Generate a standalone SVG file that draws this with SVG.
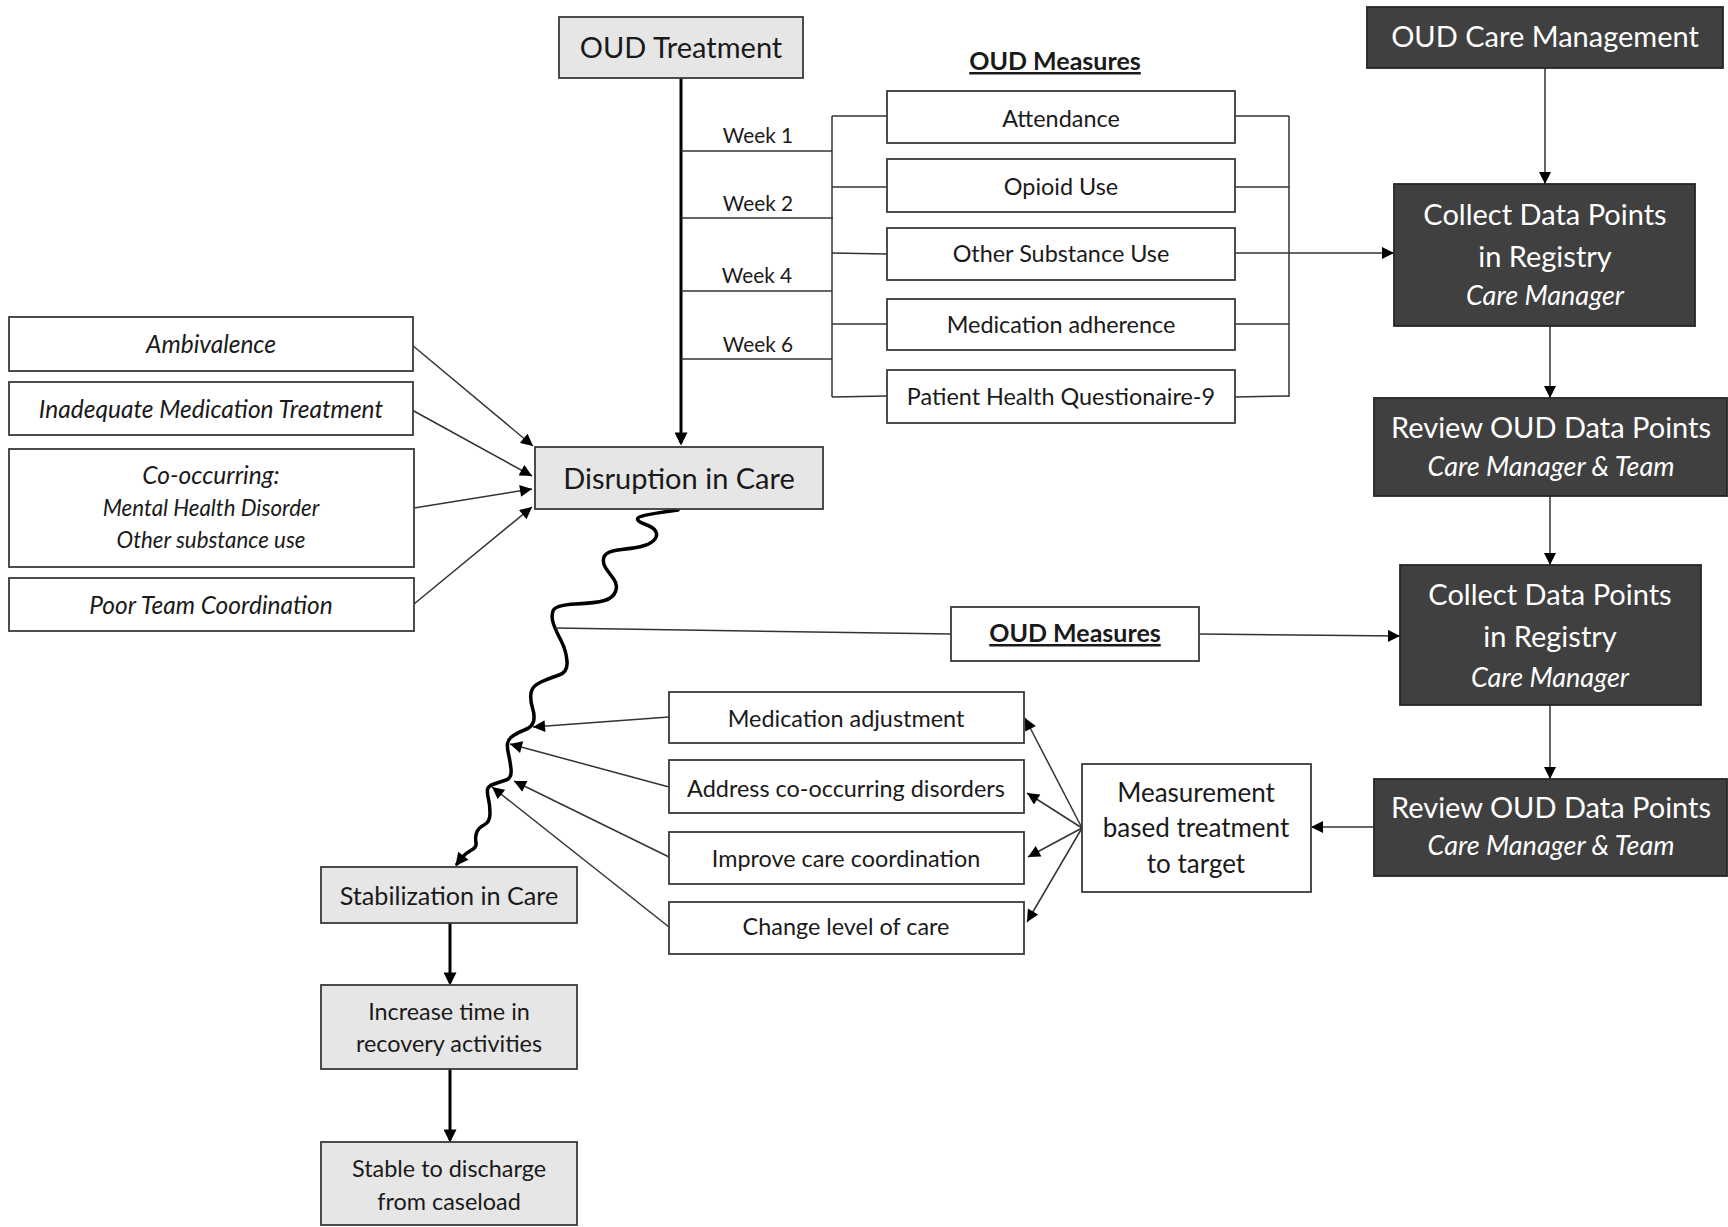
<svg xmlns="http://www.w3.org/2000/svg" width="1728" height="1227" viewBox="0 0 1728 1227">
<style>
.box{fill:#fff;stroke:#3a3a3a;stroke-width:1.8}
.gray{fill:#e7e6e6;stroke:#3a3a3a;stroke-width:1.8}
.dark{fill:#404040;stroke:#262626;stroke-width:1.8}
text{font-family:Lato,"Open Sans",sans-serif;fill:#1a1a1a;text-anchor:middle}
.wt{fill:#fff}
.it{font-style:italic}
.b{font-weight:bold;text-decoration:underline}
.s29{font-size:29px}
.sit{font-size:27px}
.s25{font-size:25px}
.s26{font-size:26px}
.s252{font-size:25.2px}
.s234{font-size:23.4px}
.fi{font-size:24.5px}
.fs{font-size:22.3px}
.s21{font-size:20.8px}
.ln{stroke:#333;stroke-width:1.5;fill:none}
.thick{stroke:#000;stroke-width:3;fill:none}
.wave{stroke:#000;stroke-width:3.5;fill:none;stroke-linecap:round;stroke-linejoin:round}
</style>
<defs>
<marker id="ah" viewBox="0 0 10 10" refX="10" refY="5" markerWidth="13" markerHeight="12" markerUnits="userSpaceOnUse" orient="auto"><path d="M0,0 L10,5 L0,10 z" fill="#000"/></marker>
<marker id="ahk" viewBox="0 0 10 10" refX="8" refY="5" markerWidth="15" markerHeight="13" markerUnits="userSpaceOnUse" orient="auto"><path d="M0,0 L10,5 L0,10 z" fill="#000"/></marker>
</defs>

<g id="connectors">
  <line class="thick" x1="681" y1="78" x2="681" y2="443" marker-end="url(#ahk)"/>
  <line class="ln" x1="681" y1="151" x2="832" y2="151"/>
  <line class="ln" x1="681" y1="218" x2="833" y2="218"/>
  <line class="ln" x1="681" y1="291" x2="832" y2="291"/>
  <line class="ln" x1="681" y1="359" x2="832" y2="359"/>
  <line class="ln" x1="832" y1="116" x2="832" y2="397"/>
  <line class="ln" x1="832" y1="116" x2="887" y2="116"/>
  <line class="ln" x1="832" y1="187" x2="887" y2="187"/>
  <line class="ln" x1="832" y1="253" x2="887" y2="254"/>
  <line class="ln" x1="832" y1="324" x2="887" y2="324"/>
  <line class="ln" x1="832" y1="397" x2="887" y2="396"/>
  <line class="ln" x1="1289" y1="116" x2="1289" y2="397"/>
  <line class="ln" x1="1235" y1="116" x2="1289" y2="116"/>
  <line class="ln" x1="1235" y1="187" x2="1289" y2="187"/>
  <line class="ln" x1="1235" y1="253" x2="1289" y2="253"/>
  <line class="ln" x1="1235" y1="324" x2="1289" y2="324"/>
  <line class="ln" x1="1235" y1="397" x2="1289" y2="396"/>
  <line class="ln" x1="1289" y1="253" x2="1394" y2="253" marker-end="url(#ah)"/>
  <line class="ln" x1="1545" y1="68" x2="1545" y2="184" marker-end="url(#ah)"/>
  <line class="ln" x1="1550" y1="326" x2="1550" y2="398" marker-end="url(#ah)"/>
  <line class="ln" x1="1550" y1="496" x2="1550" y2="565" marker-end="url(#ah)"/>
  <line class="ln" x1="1550" y1="705" x2="1550" y2="779" marker-end="url(#ah)"/>
  <line class="ln" x1="1374" y1="827" x2="1311" y2="827" marker-end="url(#ah)"/>
  <line class="ln" x1="412" y1="345" x2="533" y2="446" marker-end="url(#ah)"/>
  <line class="ln" x1="412" y1="410" x2="532" y2="476" marker-end="url(#ah)"/>
  <line class="ln" x1="414" y1="508" x2="532" y2="489" marker-end="url(#ah)"/>
  <line class="ln" x1="414" y1="604" x2="532" y2="507" marker-end="url(#ah)"/>
  <path class="wave" marker-end="url(#ahk)" d="M678,510 Q640,515 638,518 Q636,521 644.5,524 Q653,527 655.5,531 Q658,535 655,539 Q652,543 644.5,545.5 Q637,548 621.5,549.5 Q606,551 604,557 Q602,563 606,568.5 Q610,574 614,579.5 Q618,585 615.5,591.5 Q613,598 604.5,600.5 Q596,603 575.5,604 Q555,605 553,611 Q551,617 553.5,624 Q556,631 561,640.5 Q566,650 567,661 Q568,672 559,675 Q550,678 541,682 Q532,686 531,693 Q530,700 532.5,708 Q535,716 533.5,721.5 Q532,727 525.5,729.5 Q519,732 513.5,735.5 Q508,739 507.5,743.5 Q507,748 508.5,754 Q510,760 511,769 Q512,778 506,780 Q500,782 494,784 Q488,786 487.5,789.5 Q487,793 488.5,799 Q490,805 490,813.5 Q490,822 484,825 Q478,828 476.5,833 Q475,838 476,842.5 Q477,847 471.5,850 Q466,853 462,857.5 L457,864"/>
  <line class="ln" x1="555" y1="628" x2="951" y2="634"/>
  <line class="ln" x1="1199" y1="634" x2="1400" y2="636" marker-end="url(#ah)"/>
  <line class="ln" x1="669" y1="717" x2="533" y2="727" marker-end="url(#ah)"/>
  <line class="ln" x1="669" y1="787" x2="510" y2="744" marker-end="url(#ah)"/>
  <line class="ln" x1="669" y1="857" x2="514" y2="781" marker-end="url(#ah)"/>
  <line class="ln" x1="669" y1="927" x2="492" y2="787" marker-end="url(#ah)"/>
  <line class="ln" x1="1082" y1="828" x2="1025" y2="718" marker-end="url(#ah)"/>
  <line class="ln" x1="1082" y1="828" x2="1027" y2="793" marker-end="url(#ah)"/>
  <line class="ln" x1="1082" y1="828" x2="1028" y2="857" marker-end="url(#ah)"/>
  <line class="ln" x1="1082" y1="828" x2="1027" y2="922" marker-end="url(#ah)"/>
  <line class="thick" x1="450" y1="923" x2="450" y2="983" marker-end="url(#ahk)"/>
  <line class="thick" x1="450" y1="1069" x2="450" y2="1140" marker-end="url(#ahk)"/>
</g>

<g id="oud-treatment"><rect class="gray" x="559" y="17" width="244" height="61"/><text class="s29" x="681" y="58">OUD Treatment</text></g>
<g id="weeks">
  <text class="s21" x="758" y="143">Week 1</text>
  <text class="s21" x="758" y="211">Week 2</text>
  <text class="s21" x="757" y="283">Week 4</text>
  <text class="s21" x="758" y="352">Week 6</text>
</g>
<g id="oud-measures-title"><text class="s25 b" x="1055" y="70">OUD Measures</text></g>
<g id="m-attendance"><rect class="box" x="887" y="91" width="348" height="52"/><text class="s234" x="1061" y="127">Attendance</text></g>
<g id="m-opioid"><rect class="box" x="887" y="159" width="348" height="53"/><text class="s234" x="1061" y="195">Opioid Use</text></g>
<g id="m-other"><rect class="box" x="887" y="228" width="348" height="52"/><text class="s234" x="1061" y="262">Other Substance Use</text></g>
<g id="m-medication"><rect class="box" x="887" y="299" width="348" height="51"/><text class="s234" x="1061" y="333">Medication adherence</text></g>
<g id="m-phq"><rect class="box" x="887" y="370" width="348" height="53"/><text class="s234" x="1061" y="405">Patient Health Questionaire-9</text></g>

<g id="care-management"><rect class="dark" x="1367" y="7" width="356" height="61"/><text class="s29 wt" x="1545" y="47">OUD Care Management</text></g>
<g id="collect-1"><rect class="dark" x="1394" y="184" width="301" height="142"/><text class="s29 wt" x="1545" y="225">Collect Data Points</text><text class="s29 wt" x="1545" y="267">in Registry</text><text class="sit wt it" x="1545" y="305">Care Manager</text></g>
<g id="review-1"><rect class="dark" x="1374" y="398" width="353" height="98"/><text class="s29 wt" x="1551" y="438">Review OUD Data Points</text><text class="sit wt it" x="1551" y="476">Care Manager &amp; Team</text></g>
<g id="collect-2"><rect class="dark" x="1400" y="565" width="301" height="140"/><text class="s29 wt" x="1550" y="605">Collect Data Points</text><text class="s29 wt" x="1550" y="647">in Registry</text><text class="sit wt it" x="1550" y="687">Care Manager</text></g>
<g id="review-2"><rect class="dark" x="1374" y="779" width="353" height="97"/><text class="s29 wt" x="1551" y="818">Review OUD Data Points</text><text class="sit wt it" x="1551" y="855">Care Manager &amp; Team</text></g>

<g id="measurement"><rect class="box" x="1082" y="764" width="229" height="128"/><text class="s26" x="1196" y="802">Measurement</text><text class="s26" x="1196" y="837">based treatment</text><text class="s26" x="1196" y="873">to target</text></g>
<g id="oud-measures-mid"><rect class="box" x="951" y="607" width="248" height="54"/><text class="s25 b" x="1075" y="642">OUD Measures</text></g>

<g id="a-medication"><rect class="box" x="669" y="692" width="355" height="51"/><text class="s234" x="846" y="727">Medication adjustment</text></g>
<g id="a-address"><rect class="box" x="669" y="760" width="355" height="53"/><text class="s234" x="846" y="797">Address co-occurring disorders</text></g>
<g id="a-improve"><rect class="box" x="669" y="832" width="355" height="52"/><text class="s234" x="846" y="867">Improve care coordination</text></g>
<g id="a-change"><rect class="box" x="669" y="902" width="355" height="52"/><text class="s234" x="846" y="935">Change level of care</text></g>

<g id="f-ambivalence"><rect class="box" x="9" y="317" width="404" height="54"/><text class="fi it" x="211" y="353">Ambivalence</text></g>
<g id="f-inadequate"><rect class="box" x="9" y="382" width="404" height="53"/><text class="fi it" x="211" y="418">Inadequate Medication Treatment</text></g>
<g id="f-cooccurring"><rect class="box" x="9" y="449" width="405" height="118"/><text class="fi it" x="211" y="484">Co-occurring:</text><text class="fs it" x="211" y="516">Mental Health Disorder</text><text class="fs it" x="211" y="548">Other substance use</text></g>
<g id="f-poor-team"><rect class="box" x="9" y="578" width="405" height="53"/><text class="fi it" x="211" y="614">Poor Team Coordination</text></g>

<g id="disruption"><rect class="gray" x="535" y="447" width="288" height="62"/><text class="s29" x="679" y="489">Disruption in Care</text></g>
<g id="stabilization"><rect class="gray" x="321" y="867" width="256" height="56"/><text class="s252" x="449" y="905">Stabilization in Care</text></g>
<g id="increase"><rect class="gray" x="321" y="985" width="256" height="84"/><text class="s234" x="449" y="1020">Increase time in</text><text class="s234" x="449" y="1052">recovery activities</text></g>
<g id="stable"><rect class="gray" x="321" y="1142" width="256" height="83"/><text class="s234" x="449" y="1177">Stable to discharge</text><text class="s234" x="449" y="1210">from caseload</text></g>
</svg>
